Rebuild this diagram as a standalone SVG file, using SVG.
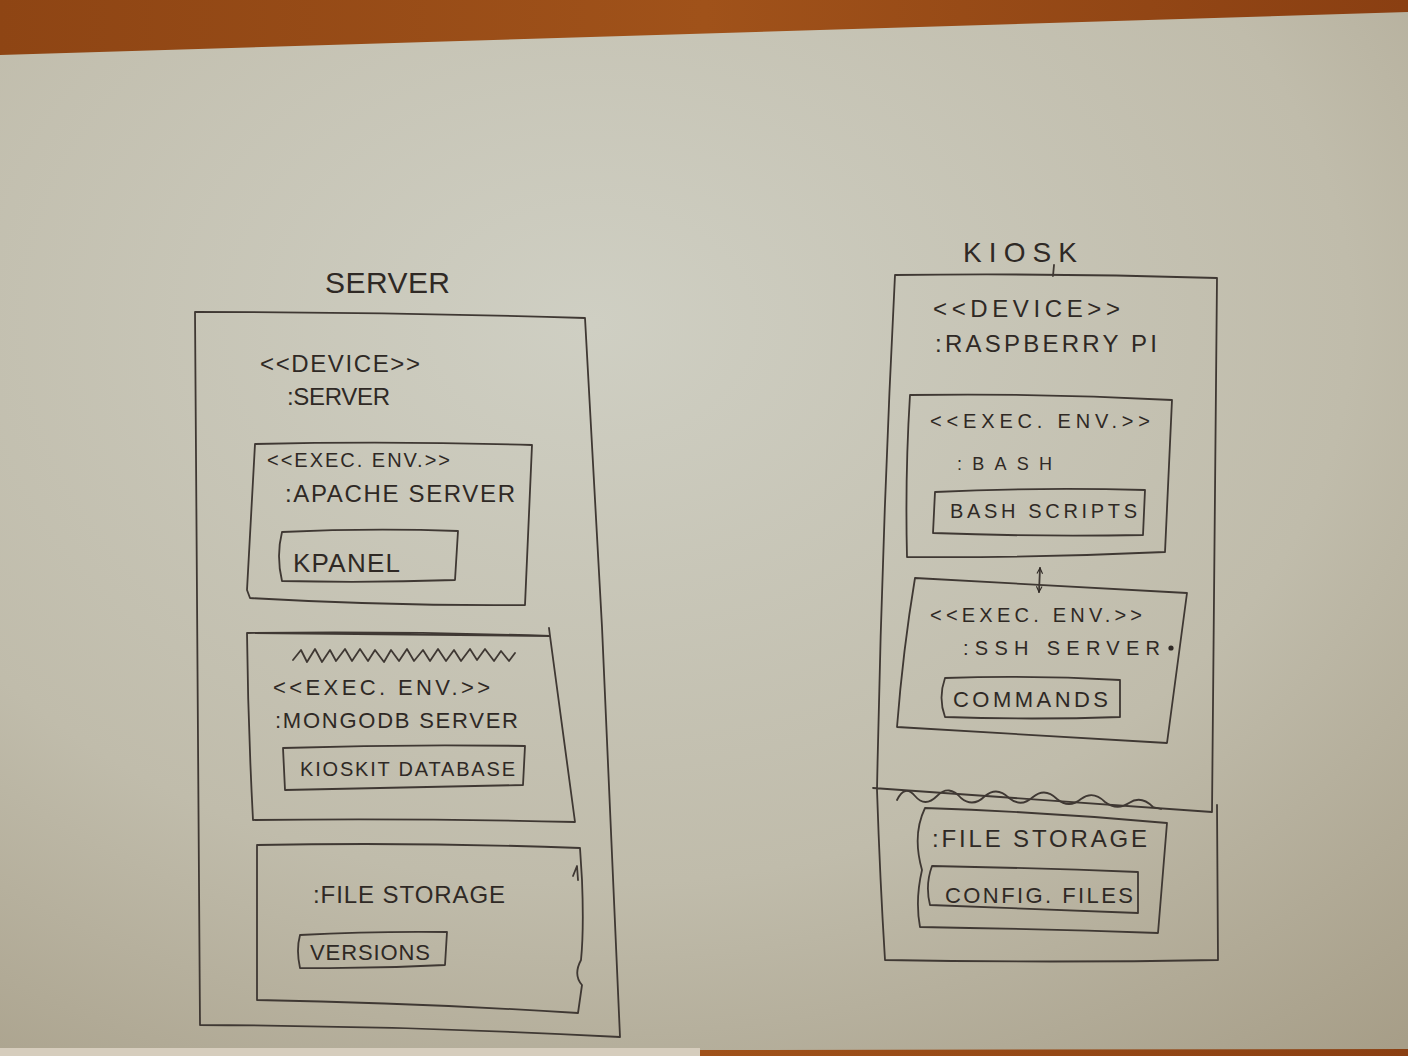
<svg xmlns="http://www.w3.org/2000/svg" width="1408" height="1056" viewBox="0 0 1408 1056">
<defs>
<linearGradient id="wood" x1="0" y1="0" x2="1" y2="0">
<stop offset="0" stop-color="#8e4514"/><stop offset="0.5" stop-color="#a0521a"/><stop offset="1" stop-color="#8a3f12"/>
</linearGradient>
<radialGradient id="paper" cx="0.42" cy="0.3" r="0.9">
<stop offset="0" stop-color="#cfcfc3"/><stop offset="0.6" stop-color="#c0bcab"/><stop offset="1" stop-color="#a79e88"/>
</radialGradient>
<marker id="ah" viewBox="0 0 10 10" refX="9" refY="5" markerWidth="7" markerHeight="7" orient="auto-start-reverse" markerUnits="userSpaceOnUse">
<path d="M1,1 L9,5 L1,9" fill="none" stroke="#2f2925" stroke-width="1.6"/>
</marker>
<style>
.b{fill:none;stroke:#3f3833;stroke-width:1.8;stroke-linejoin:round;stroke-linecap:round}
.t{font-family:"Liberation Sans","DejaVu Sans",sans-serif;fill:#2f2925;font-weight:normal}
</style>
</defs>
<rect x="0" y="0" width="1408" height="1056" fill="url(#wood)"/>
<path d="M0,55 L1408,12 L1408,1049 L700,1050 L0,1048 Z" fill="url(#paper)"/>
<rect x="0" y="1048" width="700" height="8" fill="#d6cdbd"/>

<g id="server-device">
<text class="t" x="325" y="293" font-size="30" textLength="125">SERVER</text>
<path class="b" d="M195,312 Q390,312 585,318 L602,627 L620,1037 Q410,1026 200,1025 Q196,660 195,312 Z"/>
<text class="t" x="260" y="372" font-size="24" textLength="160">&lt;&lt;DEVICE&gt;&gt;</text>
<text class="t" x="287" y="405" font-size="24" textLength="103">:SERVER</text>
</g>
<g id="apache-env">
<path class="b" d="M255,444 Q395,441 532,445 L525,605 Q385,606 250,598 L247,590 Z"/>
<text class="t" x="267" y="467" font-size="20" textLength="183">&lt;&lt;EXEC. ENV.&gt;&gt;</text>
<text class="t" x="285" y="502" font-size="24" textLength="230">:APACHE SERVER</text>
</g>
<g id="kpanel">
<path class="b" d="M282,532 Q370,528 458,531 L455,580 Q370,583 282,581 Q276,556 282,532 Z"/>
<text class="t" x="293" y="572" font-size="26" textLength="107">KPANEL</text>
</g>
<g id="mongodb-env">
<path class="b" d="M247,633 Q400,631 550,636 L549,628 M550,636 L575,822 Q410,818 253,820 Q248,725 247,633 Z"/>
<path class="b" d="M293,660 l8,-10 l6,12 l8,-13 l7,13 l8,-12 l6,11 l9,-12 l7,12 l8,-12 l8,12 l7,-11 l9,12 l7,-12 l8,11 l8,-12 l7,12 l9,-11 l7,11 l8,-12 l8,12 l8,-11 l7,11 l9,-12 l7,11 l8,-11 l9,12 l7,-10 l8,10 l6,-8"/>
<text class="t" x="273" y="695" font-size="22" textLength="217">&lt;&lt;EXEC. ENV.&gt;&gt;</text>
<text class="t" x="275" y="728" font-size="22" textLength="243">:MONGODB SERVER</text>
</g>
<g id="kioskit-database">
<path class="b" d="M283,748 Q405,744 525,746 L523,785 Q405,788 285,790 Z"/>
<text class="t" x="300" y="776" font-size="20" textLength="215">KIOSKIT DATABASE</text>
</g>
<g id="server-file-storage">
<path class="b" d="M257,845 Q420,842 580,848 L582,880 Q584,930 581,960 Q573,975 582,985 L578,1013 Q420,1003 257,1000 Z"/>
<path class="b" d="M573,876 L577,866 L578,880"/>
<text class="t" x="313" y="903" font-size="24" textLength="192">:FILE STORAGE</text>
</g>
<g id="versions">
<path class="b" d="M300,935 Q375,931 447,932 L445,965 Q372,969 300,968 Q296,950 300,935 Z"/>
<text class="t" x="310" y="960" font-size="22" textLength="120">VERSIONS</text>
</g>

<g id="kiosk-device">
<text class="t" x="963" y="262" font-size="28" textLength="114">KIOSK</text>
<path class="b" d="M1054,265 L1053,276"/>
<path class="b" d="M895,275 Q1055,273 1217,278 L1212,812 M873,788 Q1040,800 1212,812 M895,275 Q882,530 877,790 Q880,880 885,960 Q1050,963 1218,960 L1217,805"/>
<path class="b" d="M897,800 q8,-16 18,-4 q10,12 22,0 q12,-12 24,2 q12,10 24,-2 q12,-10 24,2 q12,10 24,-1 q12,-10 24,2 q12,10 24,0 q12,-9 24,3 q12,9 24,1 q12,-8 24,4 l8,2"/>
<text class="t" x="933" y="317" font-size="24" textLength="187">&lt;&lt;DEVICE&gt;&gt;</text>
<text class="t" x="935" y="352" font-size="24" textLength="222">:RASPBERRY PI</text>
</g>
<g id="bash-env">
<path class="b" d="M910,395 Q1040,393 1172,400 L1165,552 Q1035,558 907,557 Q905,475 910,395 Z"/>
<text class="t" x="930" y="428" font-size="20" textLength="220">&lt;&lt;EXEC. ENV.&gt;&gt;</text>
<text class="t" x="957" y="470" font-size="18" textLength="95">:BASH</text>
</g>
<g id="bash-scripts">
<path class="b" d="M935,492 Q1040,487 1145,490 L1143,535 Q1038,537 933,533 Z"/>
<text class="t" x="950" y="518" font-size="20" textLength="187">BASH SCRIPTS</text>
</g>
<g id="ssh-env">
<path class="b" d="M915,578 Q1050,585 1187,593 L1167,743 Q1030,735 897,727 Q903,650 915,578 Z"/>
<text class="t" x="930" y="622" font-size="20" textLength="212">&lt;&lt;EXEC. ENV.&gt;&gt;</text>
<text class="t" x="963" y="655" font-size="20" textLength="197">:SSH SERVER</text>
<circle cx="1171" cy="648" r="2.6" fill="#2f2925"/>
</g>
<g id="commands">
<path class="b" d="M945,678 Q1032,675 1120,680 L1120,717 Q1032,720 945,717 Q938,698 945,678 Z"/>
<text class="t" x="953" y="707" font-size="22" textLength="155">COMMANDS</text>
</g>
<g id="kiosk-file-storage">
<path class="b" d="M925,808 Q1045,812 1167,823 L1158,933 Q1040,929 920,927 Q915,900 922,870 Q912,835 925,808 Z"/>
<text class="t" x="932" y="847" font-size="24" textLength="215">:FILE STORAGE</text>
</g>
<g id="config-files">
<path class="b" d="M932,866 Q1035,868 1138,872 L1138,913 Q1035,909 930,905 Q925,885 932,866 Z"/>
<text class="t" x="945" y="903" font-size="22" textLength="188">CONFIG. FILES</text>
</g>

<g id="connectors">
<path class="b" d="M1040,568 L1039,592" marker-start="url(#ah)" marker-end="url(#ah)"/>
</g>
</svg>
